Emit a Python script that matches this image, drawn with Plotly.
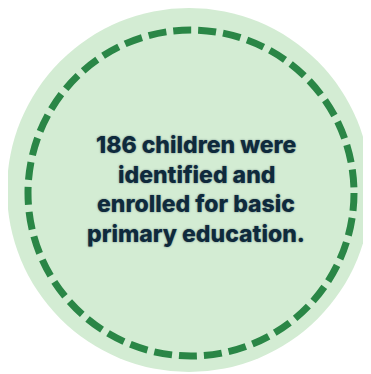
import plotly.graph_objects as go

# Content
children_count = 186
text_lines = [
    f"{children_count} children were",
    "identified and",
    "enrolled for basic",
    "primary education.",
]

W, H = 371, 374
OFF = 8  # default page body margin; plot coordinates are window pixels
FILL = "#d3ecd3"
DASH = "#2a8646"
TEXT = "#0f2a3c"

fig = go.Figure()

# outer disc
cx, cy, r_out = 189, 190, 182
fig.add_shape(type="circle", xref="x", yref="y",
              x0=cx - r_out, x1=cx + r_out, y0=cy - r_out, y1=cy + r_out,
              fillcolor=FILL, line=dict(width=0), layer="below")
# dashed ring
dcx, dcy, r_d = 191, 193, 163
fig.add_shape(type="circle", xref="x", yref="y",
              x0=dcx - r_d, x1=dcx + r_d, y0=dcy - r_d, y1=dcy + r_d,
              fillcolor="rgba(0,0,0,0)",
              line=dict(color=DASH, width=7, dash="18px,7px"))

line_gap = 29.6
y0 = 145
for i, t in enumerate(text_lines):
    fig.add_annotation(x=196, y=y0 + i * line_gap, xref="x", yref="y",
                       text=t, showarrow=False,
                       font=dict(family="Inter", size=23, color=TEXT, weight=800,
                                 shadow="0px 0px 2px rgba(15,42,60,0.55)"),
                       xanchor="center", yanchor="middle")

fig.update_xaxes(range=[OFF, W], visible=False, fixedrange=True)
fig.update_yaxes(range=[H, OFF], visible=False, fixedrange=True)
fig.update_layout(width=W - OFF, height=H - OFF, margin=dict(l=0, r=0, t=0, b=0),
                  paper_bgcolor="white", plot_bgcolor="white", showlegend=False)

fig.write_html("out.html", config={"displayModeBar": False})
